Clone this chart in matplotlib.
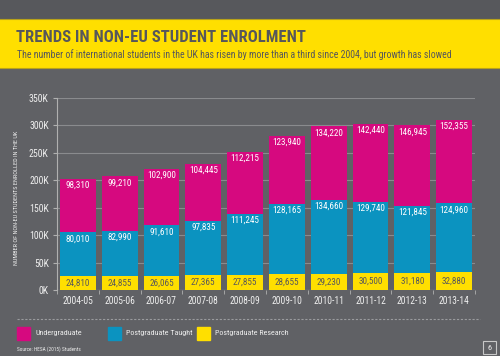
import matplotlib.pyplot as plt
from matplotlib.patches import Rectangle

# data
years = ["2004-05", "2005-06", "2006-07", "2007-08", "2008-09",
         "2009-10", "2010-11", "2011-12", "2012-13", "2013-14"]
research = [24810, 24855, 26065, 27365, 27855, 28655, 29230, 30500, 31180, 32880]
taught = [80010, 82990, 91610, 97835, 111245, 128165, 134660, 129740, 121845, 124960]
undergrad = [98310, 99210, 102900, 104445, 112215, 123940, 134220, 142440, 146945, 152355]
yticks = [0, 50000, 100000, 150000, 200000, 250000, 300000, 350000]
ylabels = ["0K", "50K", "100K", "150K", "200K", "250K", "300K", "350K"]

BG = "#606165"
TOP = "#57585c"
YEL = "#ffdf00"
PINK = "#d6097f"
BLUE = "#0b93c0"
DARK = "#56575b"
LIGHT = "#eeeeee"

plt.rcParams["font.family"] = ["Roboto Condensed", "Liberation Sans", "DejaVu Sans"]

W, H = 500, 356
fig = plt.figure(figsize=(5, 3.56), dpi=100, facecolor=BG)


def fx(px):
    return px / W


def fy(py):
    return 1 - py / H


# header bands
fig.patches.append(Rectangle((0, fy(19)), 1, 19 / H, transform=fig.transFigure,
                             color=TOP, zorder=0))
fig.patches.append(Rectangle((-0.01, fy(68)), 1.02, 49 / H, transform=fig.transFigure,
                             facecolor=YEL, edgecolor="#b8a21a", lw=0.8, zorder=0))
fig.text(fx(16), fy(37), "TRENDS IN NON-EU STUDENT ENROLMENT", fontsize=12,
         fontweight="bold", color=DARK, va="center", ha="left")
fig.text(fx(17), fy(55), "The number of international students in the UK has risen by more than a third since 2004, but growth has slowed",
         fontsize=7.1, color=DARK, va="center", ha="left")

# chart
ax = fig.add_axes([fx(57), fy(290), (475 - 57) / W, (290 - 98) / H])
ax.set_facecolor(BG)
x = list(range(len(years)))
bw = 0.86
b2 = [r + t for r, t in zip(research, taught)]
ax.bar(x, research, bw, color=YEL, zorder=3)
ax.bar(x, taught, bw, bottom=research, color=BLUE, zorder=3)
ax.bar(x, undergrad, bw, bottom=b2, color=PINK, zorder=3)

for i in x:
    ax.text(i, research[i] / 2, f"{research[i]:,}", ha="center", va="center",
            fontsize=6.6, color=DARK, zorder=4)
    ax.text(i, b2[i] - 11500, f"{taught[i]:,}", ha="center", va="center",
            fontsize=6.6, color="white", zorder=4)
    ax.text(i, b2[i] + undergrad[i] - 11500, f"{undergrad[i]:,}", ha="center",
            va="center", fontsize=6.6, color="white", zorder=4)

ax.set_xlim(-0.5, len(years) - 0.5)
ax.set_ylim(0, 350000)
ax.set_yticks(yticks)
ax.set_yticklabels(ylabels)
ax.set_xticks(x)
ax.set_xticklabels(years)
ax.set_xticks([i - 0.5 for i in range(len(years) + 1)], minor=True)
ax.grid(axis="y", color="#8a8b8e", lw=0.8, zorder=1)
for s in ["top", "right", "bottom"]:
    ax.spines[s].set_visible(False)
ax.spines["left"].set_color("#b0b0b0")
ax.axhline(0, color="#b0b0b0", lw=0.8, zorder=2)
ax.tick_params(axis="y", colors="#b0b0b0", labelcolor=LIGHT, labelsize=7,
               length=3, pad=3)
ax.tick_params(axis="x", which="major", length=0, labelcolor=LIGHT,
               labelsize=6.9, pad=4)
ax.tick_params(axis="x", which="minor", length=3, color="#b0b0b0")

fig.text(fx(17), fy(198), "NUMBER OF NON-EU STUDENTS ENROLLED IN THE UK",
         rotation=90, fontsize=4.5, color=LIGHT, ha="center", va="center")

# separator and legend
fig.add_artist(plt.Line2D([fx(17), fx(480)], [fy(319), fy(319)],
                          color="#9a9b9e", lw=0.8, ls=(0, (2, 1.5))))
legend = [("Undergraduate", PINK, 17), ("Postgraduate Taught", BLUE, 108),
          ("Postgraduate Research", YEL, 197)]
for name, c, px in legend:
    fig.patches.append(Rectangle((fx(px), fy(340)), 13 / W, 13 / H,
                                 transform=fig.transFigure, color=c))
    fig.text(fx(px + 18), fy(333.5), name, fontsize=5.8, color=LIGHT,
             ha="left", va="center")
fig.text(fx(17), fy(349), "Source: HESA (2015) Students", fontsize=3.8,
         color=LIGHT, ha="left", va="center")
fig.patches.append(Rectangle((fx(483), fy(354)), 13 / W, 13 / H,
                             transform=fig.transFigure, facecolor="none",
                             edgecolor="#c8c8c8", lw=0.8))
fig.text(fx(489.5), fy(347.5), "6", fontsize=6, color=LIGHT,
         ha="center", va="center")

fig.savefig("out.png", dpi=100, facecolor=BG)
